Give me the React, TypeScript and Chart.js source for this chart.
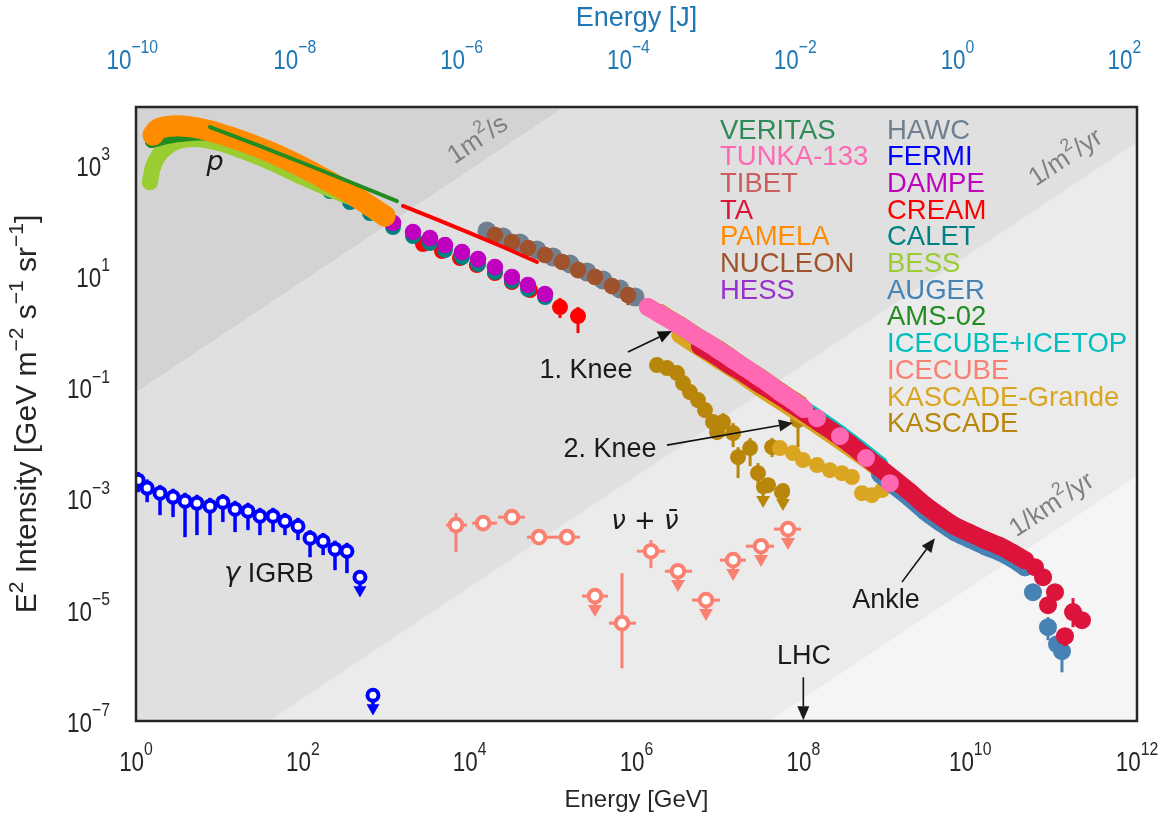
import React, { useEffect, useRef } from 'react';
import { Chart, registerables } from 'chart.js';

Chart.register(...registerables);

type Pt = [number, number];

// ---------- constants ----------
const J_PER_GEV = 1.602e-10;
const SECONDS_PER_YEAR = 3.156e7;
const STERAD = 4 * Math.PI;
const UL_DROP = 1.7;

// ---------- axes ----------
const X_TICKS = [0, 2, 4, 6, 8, 10, 12];
const Y_TICKS = [-7, -5, -3, -1, 1, 3];
const TOP_TICKS = [-10, -8, -6, -4, -2, 0, 2];
const X_MIN = 1;
const X_MAX = 1e12;
const Y_MIN = 1e-7;
const Y_MAX = 1.096e4;

// ---------- legend ----------
const LEGEND_LEFT = ['VERITAS', 'TUNKA-133', 'TIBET', 'TA', 'PAMELA', 'NUCLEON', 'HESS'];
const LEGEND_RIGHT = ['HAWC', 'FERMI', 'DAMPE', 'CREAM', 'CALET', 'BESS', 'AUGER', 'AMS-02', 'ICECUBE+ICETOP', 'ICECUBE', 'KASCADE-Grande', 'KASCADE'];
const COLORS: Record<string, string> = {
  'VERITAS': '#2e8b57', 'TUNKA-133': '#ff69b4', 'TIBET': '#cd5c5c', 'TA': '#dc143c',
  'PAMELA': '#ff8c00', 'NUCLEON': '#a0522d', 'HESS': '#9932cc', 'HAWC': '#708090',
  'FERMI': '#0000ff', 'DAMPE': '#bf00bf', 'CREAM': '#ff0000', 'CALET': '#008080',
  'BESS': '#9acd32', 'AUGER': '#4682b4', 'AMS-02': '#228b22', 'ICECUBE+ICETOP': '#00bfbf',
  'ICECUBE': '#fa8072', 'KASCADE-Grande': '#daa520', 'KASCADE': '#b8860b',
};

// ---------- iso-flux bands (per m^2 per s) ----------
const BAND_E = [0.1, 1e13];
const BAND_RATES = [1, 1 / SECONDS_PER_YEAR, 1e-6 / SECONDS_PER_YEAR];
const BAND_COLORS = ['#d3d3d3', '#e0e0e0', '#ebebeb', '#f5f5f5'];

// ---------- data: [E (GeV), E^2 I] ----------
const PAMELA: Pt[] = [[1.6, 3440], [1.8, 4300], [2.2, 4790], [2.8, 4990], [3.56, 4990], [5.1, 4690], [7.71, 4060], [13.4, 3160], [23.3, 2370], [40.4, 1700], [70.2, 1170], [122, 774], [212, 491], [368, 312], [639, 182], [966, 120]];
const BESS: Pt[] = [[1.47, 490], [1.6, 914], [1.89, 1503], [2.35, 2094], [3.19, 2685], [5.1, 2911], [8.85, 2570], [17.7, 1849], [40.4, 1125], [92.5, 630], [212, 367], [422, 243]];
const AMS02_P: Pt[] = [[1.55, 2680], [2.05, 3030], [3.37, 3440], [7.71, 3580], [23.3, 2094], [70.2, 1035], [212, 434], [639, 161]];
const AMS02_ALL: Pt[] = [[7.71, 4786], [28.2, 2275], [100, 1079], [368, 491], [1345, 223]];
const CREAM_ALL: Pt[] = [[1585, 182], [3948, 106], [1.01e4, 59.4], [2.51e4, 33.3], [6.41e4, 17.9]];
const CREAM_P: Pt[] = [[2757, 37.7], [4660, 28.2], [7660, 21.1], [1.22e4, 15.8], [2.01e4, 11.3], [3.21e4, 7.8], [5.29e4, 5.6], [1.21e5, 2.77], [1.99e5, 1.91]];
const CREAM_P_LO = [null, null, null, null, null, null, null, 1.76, 0.944];
const CREAM_P_HI = [null, null, null, null, null, null, null, 4.03, 2.77];
const CALET: Pt[] = [[70.2, 841], [122, 533], [212, 338], [368, 214], [639, 136], [1205, 76], [2094, 52.4], [3342, 39.3], [5058, 29.4], [8090, 22], [1.26e4, 16.4], [2.01e4, 11.8], [3.21e4, 8.13], [5.0e4, 5.84], [8.0e4, 4.2]];
const DAMPE: Pt[] = [[1205, 90], [2094, 62], [3342, 48.3], [5058, 36.1], [8090, 27], [1.26e4, 20.2], [2.01e4, 14.5], [3.21e4, 9.6], [5.0e4, 6.9], [8.0e4, 4.75]];
const NUCLEON: Pt[] = [[2.01e4, 54.7], [3.21e4, 40.9], [5.0e4, 31.9], [8.0e4, 23.9], [1.28e5, 17.9], [1.99e5, 12.8], [3.18e5, 9.6], [5.08e5, 6.6], [7.9e5, 4.55]];
const NUCLEON_LO = [null, null, null, null, null, null, null, null, 3.0];
const NUCLEON_HI = [null, null, null, null, null, null, null, null, 5.5];
const HAWC: Pt[] = [[1.61e4, 64.5], [2.51e4, 50.4], [4.01e4, 39.3], [6.41e4, 29.4], [9.98e4, 22], [1.6e5, 16.4], [2.55e5, 11.8], [3.96e5, 8.5], [6.34e5, 5.85], [9.6e5, 4.2]];
const TUNKA: Pt[] = [[1.37e6, 2.77], [1.91e6, 2.07], [2.66e6, 1.55], [3.71e6, 1.16], [5.16e6, 0.834], [7.19e6, 0.624], [1.0e7, 0.448], [1.4e7, 0.321], [1.94e7, 0.231], [2.71e7, 0.166], [3.77e7, 0.119], [5.25e7, 0.082], [7.31e7, 0.0589], [1.02e8, 0.0406]];
const TUNKA_TAIL: Pt[] = [[1.46e8, 0.0279], [2.75e8, 0.0132], [5.64e8, 0.00533], [1.09e9, 0.00189]];
const TA: Pt[] = [[5.77e6, 0.551], [8.73e6, 0.38], [1.32e7, 0.251], [2.0e7, 0.173], [3.02e7, 0.114], [4.57e7, 0.0787], [6.92e7, 0.052], [1.05e8, 0.0344], [1.58e8, 0.0227], [2.39e8, 0.015], [3.62e8, 0.0095], [5.48e8, 0.00578], [8.3e8, 0.00352], [1.26e9, 0.00214], [1.9e9, 0.0013], [2.87e9, 7.6e-4], [4.35e9, 4.83e-4], [6.58e9, 3.19e-4], [9.95e9, 2.39e-4], [1.51e10, 1.79e-4], [2.28e10, 1.39e-4], [3.26e10, 1.04e-4], [4.54e10, 7.8e-5]];
const TA_TAIL: Pt[] = [[5.98e10, 5.83e-5], [7.47e10, 3.85e-5], [1.04e11, 2.07e-5], [8.58e10, 1.21e-5], [1.37e11, 3.35e-6], [1.71e11, 9.1e-6], [2.19e11, 6.5e-6]];
const TA_TAIL_LO = [null, null, null, null, 2.2e-6, 4.86e-6, null];
const TA_TAIL_HI = [null, null, null, null, 4.6e-6, 1.62e-5, null];
const AUGER: Pt[] = [[8.3e8, 2.75e-3], [1.26e9, 1.67e-3], [1.9e9, 1.02e-3], [2.87e9, 5.94e-4], [4.35e9, 3.77e-4], [6.58e9, 2.49e-4], [9.95e9, 1.86e-4], [1.51e10, 1.39e-4], [2.28e10, 1.09e-4], [3.26e10, 8.13e-5], [4.54e10, 5.83e-5]];
const AUGER_TAIL: Pt[] = [[5.66e10, 2.07e-5], [8.57e10, 4.86e-6], [1.1e11, 2.4e-6], [1.26e11, 1.8e-6]];
const AUGER_TAIL_LO = [null, 2.84e-6, 1.5e-6, 7.5e-7];
const AUGER_TAIL_HI = [null, 7.36e-6, 3.2e-6, 3.5e-6];
const ICETOP: Pt[] = [[5.77e6, 0.65], [1.0e7, 0.395], [1.74e7, 0.23], [3.02e7, 0.135], [5.25e7, 0.079], [9.12e7, 0.046], [1.58e8, 0.0268], [2.75e8, 0.015], [4.78e8, 0.008], [8.3e8, 0.00415]];
const KG_ALL: Pt[] = [[3.32e6, 0.869], [5.77e6, 0.507], [1.0e7, 0.296], [1.74e7, 0.173], [3.02e7, 0.0968], [5.25e7, 0.0565], [9.12e7, 0.033], [1.58e8, 0.0192], [2.75e8, 0.0108], [4.78e8, 0.00604], [7.85e8, 0.00352]];
const KG_LIGHT: Pt[] = [[5.25e7, 8.07e-3], [7.51e7, 6.56e-3], [9.9e7, 4.91e-3], [1.46e8, 3.99e-3], [2.08e8, 3.24e-3], [2.9e8, 2.86e-3], [3.83e8, 2.43e-3], [5.05e8, 1.25e-3], [6.65e8, 1.15e-3], [8.77e8, 1.42e-3]];
const KASCADE_ALL: Pt[] = [[1.91e6, 2.2], [3.32e6, 1.33], [5.77e6, 0.78], [1.0e7, 0.475], [1.74e7, 0.265], [3.02e7, 0.155], [5.25e7, 0.087], [9.12e7, 0.05]];
const KASCADE_P: Pt[] = [[1.76e6, 0.251], [2.32e6, 0.222], [3.06e6, 0.18], [3.61e6, 0.119], [4.37e6, 0.082], [5.46e6, 0.0589], [6.62e6, 0.0389], [8.26e6, 0.0237], [1.09e7, 0.0237], [9.23e6, 0.0156], [1.44e7, 0.015], [1.65e7, 5.55e-3], [2.3e7, 8.07e-3], [2.86e7, 2.86e-3], [4.22e7, 8.4e-3], [3.77e7, 1.74e-3], [5.55e7, 1.3e-3], [8.63e7, 0.0257]];
const KASCADE_P_LO = [null, null, null, null, null, null, null, null, 0.0127, null, 8.4e-3, 2.33e-3, 3.83e-3, 1.6e-3, 5.56e-3, null, null, 8.4e-3];
const KASCADE_P_HI = [null, null, null, null, null, null, null, null, 0.0344, null, 0.0227, 8.4e-3, 0.0122, 4.34e-3, 0.0122, null, null, 0.0787];
const KASCADE_UL: Pt[] = [[3.29e7, 1.6e-3], [5.7e7, 1.42e-3]];

// FERMI isotropic gamma-ray background
const FERMI_E = [1.06, 1.36, 1.94, 2.78, 3.87, 5.38, 7.71, 11.0, 15.4, 22.0, 30.6, 43.9, 61.1, 87.5, 122, 175, 243, 338];
const FERMI_I = [2.14e-3, 1.54e-3, 1.25e-3, 1.06e-3, 8.97e-4, 8.26e-4, 7.3e-4, 8.6e-4, 6.44e-4, 5.93e-4, 4.82e-4, 4.82e-4, 3.92e-4, 3.18e-4, 1.94e-4, 1.71e-4, 1.23e-4, 1.13e-4];
const FERMI_LO = [1.3e-3, 8.6e-4, 5.03e-4, 4.63e-4, 2.02e-4, 2.2e-4, 2.2e-4, 3.77e-4, 2.49e-4, 2.7e-4, 2.2e-4, 2.49e-4, 2.2e-4, 1.79e-4, 8.8e-5, 9.6e-5, 5.15e-5, 4.55e-5];
const FERMI_HI = [3.0e-3, 2.2e-3, 1.75e-3, 1.5e-3, 1.27e-3, 1.17e-3, 1.03e-3, 1.2e-3, 9.1e-4, 8.4e-4, 6.8e-4, 6.8e-4, 5.5e-4, 4.5e-4, 2.7e-4, 2.4e-4, 1.75e-4, 1.6e-4];
const FERMI_UL_E = [484, 693];
const FERMI_UL_I = [3.85e-5, 2.91e-7];

// ICECUBE neutrinos
const NU_E = [6856, 1.45e4, 3.21e4, 6.78e4, 1.47e5, 6.7e5, 1.49e6];
const NU_I = [3.33e-4, 3.61e-4, 4.63e-4, 2.02e-4, 2.02e-4, 5.74e-6, 1.13e-4];
const NU_ELO = [5200, 1.07e4, 2.19e4, 4.87e4, 9.97e4, 4.68e5, 1.01e6];
const NU_EHI = [9290, 2.12e4, 4.6e4, 9.97e4, 2.1e5, 9.86e5, 2.19e6];
const NU_LO = [1.09e-4, 2.59e-4, 3.47e-4, null, null, 8.9e-7, 5.6e-5];
const NU_HI = [5.47e-4, 4.83e-4, 6.19e-4, null, null, 4.56e-5, 1.79e-4];
const NU_UL_E = [3.18e5, 3.14e6, 6.81e6, 1.44e7, 3.11e7, 6.55e7];
const NU_UL_I = [1.76e-5, 4.94e-5, 1.49e-5, 7.8e-5, 1.39e-4, 2.82e-4];
const NU_UL_ELO = [2.22e5, 2.19e6, 4.62e6, 1.0e7, 2.05e7, 4.45e7];
const NU_UL_EHI = [4.55e5, 4.62e6, 1.0e7, 2.05e7, 4.45e7, 9.37e7];

// ---------- annotations (data coordinates) ----------
const ARROWS = [
  { text: '1. Knee', at: [2.48e5, 0.204], from: [7.9e5, 0.43], to: [2.66e6, 1.03] },
  { text: '2. Knee', at: [4.81e5, 7.74e-3], from: [2.32e6, 9.14e-3], to: [7.51e7, 0.0227] },
  { text: 'Ankle', at: [9.8e8, 1.49e-5], from: [1.52e9, 3.14e-5], to: [3.78e9, 1.94e-4] },
  { text: 'LHC', at: [1.02e8, 1.47e-6], from: [1e8, 6.1e-7], to: [1e8, 1.03e-7] },
];
const BAND_LABELS = [
  { parts: ['1m', '2', '/s'], at: [1.26e4, 2.79e3] },
  { parts: ['1/m', '2', '/yr'], at: [1.41e11, 1.33e3] },
  { parts: ['1/km', '2', '/yr'], at: [9.57e10, 7.6e-4] },
];

const FONT = '"Liberation Sans", Arial, Helvetica, sans-serif';
const MATH = '"DejaVu Sans", sans-serif';
const INK = '#262626';

const xy = (e: number[], v: number[]) => e.map((x, i) => ({ x, y: v[i] }));
const pts = (p: Pt[]) => p.map(([x, y]) => ({ x, y }));

function series(name: string, data: any[], o: any = {}) {
  const c = COLORS[name];
  return {
    type: 'scatter', label: name, data,
    pointRadius: o.r ?? 8, pointHoverRadius: o.r ?? 8,
    pointBackgroundColor: o.hollow ? '#ffffff' : c, pointBorderColor: c, pointBorderWidth: o.bw ?? 0,
    pointStyle: o.style ?? 'circle', pointRotation: o.rot ?? 0,
    showLine: !!o.lw, borderColor: c, borderWidth: o.lw ?? 0, tension: o.tension ?? 0,
    borderCapStyle: 'round', borderJoinStyle: 'round', fill: false, clip: 0,
    order: o.order ?? 10,
    yLo: o.yLo, yHi: o.yHi, xLo: o.xLo, xHi: o.xHi, ulDrop: o.ulDrop, errColor: c, errWidth: o.ew ?? 3,
  };
}

type Seg = { t: string; font: string; dy: number };
function drawSegs(ctx: CanvasRenderingContext2D, segs: Seg[], x: number, y: number, align: string, color: string, sx = 1) {
  ctx.fillStyle = color;
  ctx.textAlign = 'left';
  ctx.textBaseline = 'middle';
  const widths = segs.map((s) => { ctx.font = s.font; return ctx.measureText(s.t).width * sx; });
  const total = widths.reduce((a, b) => a + b, 0);
  let cx = align === 'center' ? x - total / 2 : align === 'right' ? x - total : x;
  segs.forEach((s, i) => {
    ctx.font = s.font;
    ctx.save();
    ctx.translate(cx, y + s.dy);
    ctx.scale(sx, 1);
    ctx.fillText(s.t, 0, 0);
    ctx.restore();
    cx += widths[i];
  });
  return total;
}

function drawArrow(ctx: CanvasRenderingContext2D, x1: number, y1: number, x2: number, y2: number) {
  const ang = Math.atan2(y2 - y1, x2 - x1);
  const L = 14, W = 6;
  const bx = x2 - L * Math.cos(ang), by = y2 - L * Math.sin(ang);
  ctx.beginPath();
  ctx.moveTo(x1, y1);
  ctx.lineTo(bx, by);
  ctx.stroke();
  ctx.beginPath();
  ctx.moveTo(x2, y2);
  ctx.lineTo(bx + W * Math.sin(ang), by - W * Math.cos(ang));
  ctx.lineTo(bx - W * Math.sin(ang), by + W * Math.cos(ang));
  ctx.closePath();
  ctx.fill();
}

const errorBarPlugin = {
  id: 'errorBars',
  beforeDatasetDraw(chart: any, args: any) {
    const ds: any = chart.data.datasets[args.index];
    if (!ds.yLo && !ds.xLo && !ds.ulDrop) return;
    const xs = chart.scales.x, ys = chart.scales.y, ctx = chart.ctx, a = chart.chartArea;
    ctx.save();
    ctx.beginPath();
    ctx.rect(a.left, a.top, a.right - a.left, a.bottom - a.top);
    ctx.clip();
    ctx.strokeStyle = ds.errColor;
    ctx.lineWidth = ds.errWidth;
    ds.data.forEach((p: any, i: number) => {
      const px = xs.getPixelForValue(p.x), py = ys.getPixelForValue(p.y);
      const lo = ds.yLo ? ds.yLo[i] : null, hi = ds.yHi ? ds.yHi[i] : null;
      if (lo != null || hi != null) {
        ctx.beginPath();
        ctx.moveTo(px, ys.getPixelForValue(lo ?? p.y));
        ctx.lineTo(px, ys.getPixelForValue(hi ?? p.y));
        ctx.stroke();
      }
      if (ds.xLo && ds.xLo[i] != null) {
        ctx.beginPath();
        ctx.moveTo(xs.getPixelForValue(ds.xLo[i]), py);
        ctx.lineTo(xs.getPixelForValue(ds.xHi[i]), py);
        ctx.stroke();
      }
      if (ds.ulDrop) {
        ctx.beginPath();
        ctx.moveTo(px, py);
        ctx.lineTo(px, ys.getPixelForValue(p.y / ds.ulDrop));
        ctx.stroke();
      }
    });
    ctx.restore();
  },
};

const decorPlugin = {
  id: 'decor',
  afterDraw(chart: any) {
    const ctx: CanvasRenderingContext2D = chart.ctx;
    const a = chart.chartArea;
    const xs = chart.scales.x, ys = chart.scales.y;
    ctx.save();

    // frame
    ctx.strokeStyle = INK;
    ctx.lineWidth = 2.5;
    ctx.strokeRect(a.left, a.top, a.right - a.left, a.bottom - a.top);

    const tb = `27px ${FONT}`, ts = `19px ${FONT}`, sx = 0.83;
    const exp = (k: number) => (k < 0 ? '\u2212' + Math.abs(k) : String(k));
    // bottom ticks
    X_TICKS.forEach((k) => {
      drawSegs(ctx, [{ t: '10', font: tb, dy: 0 }, { t: exp(k), font: ts, dy: -14 }], xs.getPixelForValue(Math.pow(10, k)), a.bottom + 43, 'center', INK, sx);
    });
    // left ticks
    Y_TICKS.forEach((k) => {
      drawSegs(ctx, [{ t: '10', font: tb, dy: 0 }, { t: exp(k), font: ts, dy: -13.5 }], a.left - 26, ys.getPixelForValue(Math.pow(10, k)) + 3.5, 'right', INK, sx);
    });
    // top ticks (Joule)
    ctx.font = tb;
    const w10 = ctx.measureText('10').width * sx;
    TOP_TICKS.forEach((k) => {
      const px = xs.getPixelForValue(Math.pow(10, k) / J_PER_GEV);
      drawSegs(ctx, [{ t: '10', font: tb, dy: 0 }, { t: exp(k), font: ts, dy: -14 }], px - w10 / 2, 62, 'left', '#1f77b4', sx);
    });

    // axis titles
    const cx = (a.left + a.right) / 2, cy = (a.top + a.bottom) / 2;
    drawSegs(ctx, [{ t: 'Energy [GeV]', font: `24px ${FONT}`, dy: 0 }], cx, 800, 'center', INK);
    drawSegs(ctx, [{ t: 'Energy [J]', font: `27px ${FONT}`, dy: 0 }], cx, 19, 'center', '#1f77b4');
    ctx.save();
    ctx.translate(28, cy);
    ctx.rotate(-Math.PI / 2);
    const yb = `30px ${FONT}`, ysup = `21px ${FONT}`;
    drawSegs(ctx, [
      { t: 'E', font: yb, dy: 0 }, { t: '2', font: ysup, dy: -11 },
      { t: ' Intensity [GeV m', font: yb, dy: 0 }, { t: '\u22122', font: ysup, dy: -11 },
      { t: ' s', font: yb, dy: 0 }, { t: '\u22121', font: ysup, dy: -11 },
      { t: ' sr', font: yb, dy: 0 }, { t: '\u22121', font: ysup, dy: -11 },
      { t: ']', font: yb, dy: 0 },
    ], 0, 0, 'center', INK);
    ctx.restore();

    // band labels
    BAND_LABELS.forEach((b) => {
      const [e, v] = b.at;
      const x1 = xs.getPixelForValue(e), y1 = ys.getPixelForValue(v);
      const ang = Math.atan2(ys.getPixelForValue(v * 10) - y1, xs.getPixelForValue(e * 10) - x1);
      ctx.save();
      ctx.translate(x1, y1);
      ctx.rotate(ang);
      drawSegs(ctx, [
        { t: b.parts[0], font: `26px ${FONT}`, dy: 0 },
        { t: b.parts[1], font: `18px ${FONT}`, dy: -10 },
        { t: b.parts[2], font: `26px ${FONT}`, dy: 0 },
      ], 0, 0, 'center', '#808080');
      ctx.restore();
    });

    // arrow annotations
    ctx.strokeStyle = '#111111';
    ctx.fillStyle = '#111111';
    ctx.lineWidth = 1.6;
    ARROWS.forEach((an) => {
      drawArrow(ctx, xs.getPixelForValue(an.from[0]), ys.getPixelForValue(an.from[1]), xs.getPixelForValue(an.to[0]), ys.getPixelForValue(an.to[1]));
      drawSegs(ctx, [{ t: an.text, font: `27px ${FONT}`, dy: 0 }], xs.getPixelForValue(an.at[0]), ys.getPixelForValue(an.at[1]), 'center', '#1a1a1a');
    });

    // species labels
    drawSegs(ctx, [{ t: 'p', font: `italic 27px ${MATH}`, dy: 0 }], xs.getPixelForValue(8.85), ys.getPixelForValue(1.08e3), 'center', '#1a1a1a');
    drawSegs(ctx, [{ t: '\u03b3', font: `italic 27px ${MATH}`, dy: 0 }, { t: ' IGRB', font: `27px ${FONT}`, dy: 0 }], xs.getPixelForValue(39.3), ys.getPixelForValue(4.38e-5), 'center', '#1a1a1a');
    drawSegs(ctx, [
      { t: '\u03bd', font: `italic 26px ${MATH}`, dy: 0 },
      { t: ' + ', font: `26px ${MATH}`, dy: 0 },
      { t: '\u03bd\u0304', font: `italic 26px ${MATH}`, dy: 0 },
    ], xs.getPixelForValue(1.26e6), ys.getPixelForValue(3.77e-4), 'center', '#1a1a1a');

    // legend (text only)
    const lf = `27.5px ${FONT}`;
    const row = 26.7;
    LEGEND_LEFT.forEach((n, i) => drawSegs(ctx, [{ t: n, font: lf, dy: 0 }], a.left + 584, a.top + 24 + i * row, 'left', COLORS[n]));
    LEGEND_RIGHT.forEach((n, i) => drawSegs(ctx, [{ t: n, font: lf, dy: 0 }], a.left + 751, a.top + 24 + i * row, 'left', COLORS[n]));

    ctx.restore();
  },
};

function buildDatasets() {
  const ds: any[] = [];
  BAND_RATES.forEach((r, i) => {
    ds.push({
      type: 'scatter', label: `band${i}`, data: BAND_E.map((e) => ({ x: e, y: (e * r) / STERAD })),
      showLine: true, borderWidth: 0, pointRadius: 0, pointHoverRadius: 0, fill: i === 0 ? 'end' : '-1',
      backgroundColor: BAND_COLORS[i], borderColor: 'rgba(0,0,0,0)', order: 100 + i,
    });
  });
  const last = BAND_RATES[BAND_RATES.length - 1];
  ds.push({
    type: 'scatter', label: 'band3', data: BAND_E.map((e) => ({ x: e, y: (e * last) / STERAD })),
    showLine: true, borderWidth: 0, pointRadius: 0, pointHoverRadius: 0, fill: 'start',
    backgroundColor: BAND_COLORS[3], borderColor: 'rgba(0,0,0,0)', order: 103,
  });

  ds.push(series('VERITAS', [], { order: 9 }));
  ds.push(series('TIBET', [], { order: 9 }));
  ds.push(series('HESS', [], { order: 9 }));

  ds.push(series('AMS-02', pts(AMS02_ALL), { r: 0, lw: 4, order: 1 }));
  ds.push(series('CREAM', pts(CREAM_ALL), { r: 0, lw: 4, order: 1 }));
  ds.push(series('PAMELA', pts(PAMELA), { r: 10.5, lw: 21, tension: 0.3, order: 2 }));
  ds.push(series('AMS-02', pts(AMS02_P), { r: 7, lw: 14, tension: 0.3, order: 3 }));
  ds.push(series('BESS', pts(BESS), { r: 8, lw: 16, tension: 0.3, order: 4 }));
  ds.push(series('DAMPE', pts(DAMPE), { r: 8.3, order: 5 }));
  ds.push(series('CALET', pts(CALET), { r: 8, order: 6 }));
  ds.push(series('CREAM', pts(CREAM_P), { r: 8, order: 7, yLo: CREAM_P_LO, yHi: CREAM_P_HI }));
  ds.push(series('NUCLEON', pts(NUCLEON), { r: 8.3, order: 3, yLo: NUCLEON_LO, yHi: NUCLEON_HI }));
  ds.push(series('HAWC', pts(HAWC), { r: 9.5, order: 4 }));
  ds.push(series('TUNKA-133', pts(TUNKA), { r: 9, lw: 18, tension: 0.3, order: 3 }));
  ds.push(series('TUNKA-133', pts(TUNKA_TAIL), { r: 9, order: 3 }));
  ds.push(series('TA', pts(TA), { r: 9, lw: 18, tension: 0.3, order: 4 }));
  ds.push(series('TA', pts(TA_TAIL), { r: 9, order: 4, yLo: TA_TAIL_LO, yHi: TA_TAIL_HI }));
  ds.push(series('AUGER', pts(AUGER), { r: 9, lw: 18, tension: 0.3, order: 5 }));
  ds.push(series('AUGER', pts(AUGER_TAIL), { r: 9, order: 5, yLo: AUGER_TAIL_LO, yHi: AUGER_TAIL_HI }));
  ds.push(series('ICECUBE+ICETOP', pts(ICETOP), { r: 8, lw: 16, tension: 0.3, order: 6 }));
  ds.push(series('KASCADE-Grande', pts(KG_ALL), { r: 8.5, lw: 17, tension: 0.3, order: 7 }));
  ds.push(series('KASCADE-Grande', pts(KG_LIGHT), { r: 8, order: 7 }));
  ds.push(series('KASCADE', pts(KASCADE_ALL), { r: 8.5, lw: 17, tension: 0.3, order: 8 }));
  ds.push(series('KASCADE', pts(KASCADE_P), { r: 8, order: 8, yLo: KASCADE_P_LO, yHi: KASCADE_P_HI }));
  ds.push(series('KASCADE', pts(KASCADE_UL), { r: 7, order: 8, ulDrop: UL_DROP }));
  ds.push(series('KASCADE', KASCADE_UL.map(([e, v]) => ({ x: e, y: v / UL_DROP })), { r: 8, style: 'triangle', rot: 180, order: 8 }));

  ds.push(series('FERMI', xy(FERMI_E, FERMI_I), { r: 5.5, bw: 4, hollow: true, order: 3, yLo: FERMI_LO, yHi: FERMI_HI, ew: 3.5 }));
  ds.push(series('FERMI', xy(FERMI_UL_E, FERMI_UL_I), { r: 5.5, bw: 4, hollow: true, order: 3, ulDrop: UL_DROP, ew: 3.5 }));
  ds.push(series('FERMI', FERMI_UL_E.map((e, i) => ({ x: e, y: FERMI_UL_I[i] / UL_DROP })), { r: 7.5, style: 'triangle', rot: 180, order: 4 }));

  ds.push(series('ICECUBE', xy(NU_E, NU_I), { r: 6.3, bw: 4, hollow: true, order: 3, yLo: NU_LO, yHi: NU_HI, xLo: NU_ELO, xHi: NU_EHI }));
  ds.push(series('ICECUBE', xy(NU_UL_E, NU_UL_I), { r: 6.3, bw: 4, hollow: true, order: 3, xLo: NU_UL_ELO, xHi: NU_UL_EHI, ulDrop: UL_DROP }));
  ds.push(series('ICECUBE', NU_UL_E.map((e, i) => ({ x: e, y: NU_UL_I[i] / UL_DROP })), { r: 8, style: 'triangle', rot: 180, order: 4 }));
  return ds;
}

export default function App() {
  const ref = useRef<HTMLCanvasElement | null>(null);
  useEffect(() => {
    if (!ref.current) return;
    const chart = new Chart(ref.current, {
      type: 'scatter',
      data: { datasets: buildDatasets() } as any,
      options: {
        responsive: false,
        animation: false,
        events: [],
        layout: { padding: { left: 136, right: 28, top: 107, bottom: 101 } },
        plugins: { legend: { display: false }, tooltip: { enabled: false } },
        scales: {
          x: { type: 'logarithmic', min: X_MIN, max: X_MAX, display: false, bounds: 'data' },
          y: { type: 'logarithmic', min: Y_MIN, max: Y_MAX, display: false, bounds: 'data' },
        },
      } as any,
      plugins: [errorBarPlugin, decorPlugin] as any,
    });
    return () => chart.destroy();
  }, []);
  return (
    <div style={{ position: 'fixed', left: 0, top: 0, width: 1165, height: 822, background: '#ffffff' }}>
      <canvas ref={ref} width={1165} height={822} style={{ width: 1165, height: 822, display: 'block' }} />
    </div>
  );
}
